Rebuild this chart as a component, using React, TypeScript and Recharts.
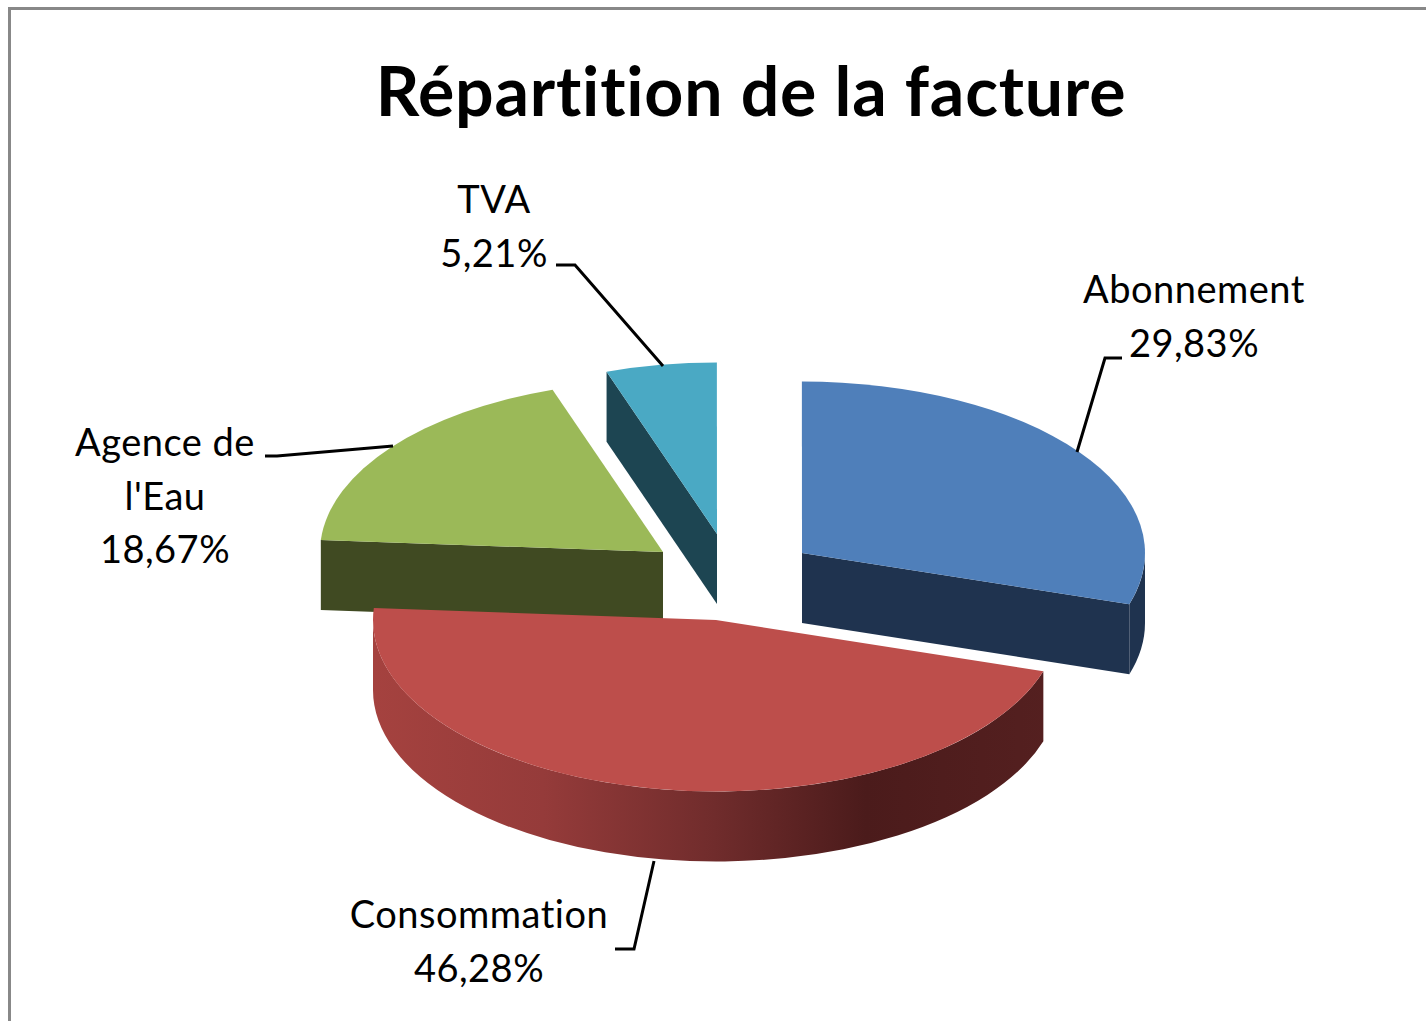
import { Pie, PieChart } from 'recharts';

// drawn back to front: Consommation has to sit on top of Agence de l'Eau
const categories = ["Agence de l'Eau", 'TVA', 'Abonnement', 'Consommation'];
const shares = [18.67, 5.21, 29.83, 46.28];

const data = categories.map((name, i) => ({ name, value: shares[i] }));

const WIDTH = 1426;
const HEIGHT = 1021;
const TILT = 0.5;
const DEPTH = 70;
const FONT = 'Lato, Carlito, sans-serif';

const STYLES: Record<string, { top: string; side: string; dx: number; dy: number }> = {
  Abonnement: { top: '#4f7fba', side: '#1f334f', dx: 87, dy: -67 },
  Consommation: { top: '#bd4e4b', side: 'url(#wall-red)', dx: 1, dy: 0 },
  "Agence de l'Eau": { top: '#9bb958', side: '#404a22', dx: -52, dy: -68 },
  TVA: { top: '#4aa9c4', side: '#1d4552', dx: 2, dy: -86 },
};

const LABELS: Record<string, { lines: string[]; x: number; y: number; leader: string }> = {
  Abonnement: { lines: ['Abonnement'], x: 1194, y: 303, leader: '1122,358 1105,358 1077,452' },
  Consommation: { lines: ['Consommation'], x: 479, y: 928, leader: '615,949 634,949 654,861' },
  "Agence de l'Eau": { lines: ['Agence de', "l'Eau"], x: 165, y: 456, leader: '265,456 277,456 393,446' },
  TVA: { lines: ['TVA'], x: 494, y: 213, leader: '556,265 575,265 663,366' },
};

const rad = (deg: number) => (deg * Math.PI) / 180;

function Slice3D(props: any) {
  const { cx, cy, outerRadius, startAngle, endAngle, name } = props;
  const style = STYLES[name];
  const ox = cx + style.dx;
  const oy = cy + style.dy;
  const rx = outerRadius;
  const ry = outerRadius * TILT;

  // clockwise angle from 12 o'clock
  const t1 = ((90 - startAngle) % 360 + 360) % 360;
  const t2 = t1 + Math.abs(endAngle - startAngle);
  const pt = (t: number, drop = 0) =>
    [ox + rx * Math.sin(rad(t)), oy - ry * Math.cos(rad(t)) + drop] as const;

  const arc = (a: number, b: number, sweep: 0 | 1, drop = 0) => {
    const [x, y] = pt(b, drop);
    return `A${rx} ${ry} 0 ${Math.abs(b - a) > 180 ? 1 : 0} ${sweep} ${x} ${y}`;
  };

  const walls: string[] = [];
  for (const [lo, hi] of [[90, 270], [450, 630]]) {
    const a = Math.max(t1, lo);
    const b = Math.min(t2, hi);
    if (b > a) {
      const [x0, y0] = pt(a);
      const [x1, y1] = pt(b, DEPTH);
      walls.push(`M${x0} ${y0}${arc(a, b, 1)}L${x1} ${y1}${arc(b, a, 0, DEPTH)}Z`);
    }
  }

  const face = (t: number) => {
    const [x, y] = pt(t);
    return `M${ox} ${oy}L${x} ${y}L${x} ${y + DEPTH}L${ox} ${oy + DEPTH}Z`;
  };
  const faces: string[] = [];
  if (Math.sin(rad(t1)) < -0.001) faces.push(face(t1));
  if (Math.sin(rad(t2)) > 0.001) faces.push(face(t2));

  const [sx, sy] = pt(t1);
  return (
    <g>
      <defs>
        <linearGradient id="wall-red" gradientUnits="userSpaceOnUse" x1={cx - rx} x2={cx + rx} y1={0} y2={0}>
          <stop offset="0" stopColor="#a5423f" />
          <stop offset="0.25" stopColor="#953b3a" />
          <stop offset="0.5" stopColor="#702c2c" />
          <stop offset="0.72" stopColor="#4b1b1b" />
          <stop offset="1" stopColor="#552020" />
        </linearGradient>
      </defs>
      {faces.map((d) => (
        <path key={d} d={d} fill={style.side} />
      ))}
      {walls.map((d) => (
        <path key={d} d={d} fill={style.side} />
      ))}
      <path d={`M${ox} ${oy}L${sx} ${sy}${arc(t1, t2, 1)}Z`} fill={style.top} />
    </g>
  );
}

function SliceLabel(props: any) {
  const { name, value } = props;
  const label = LABELS[name];
  const lines = [...label.lines, `${value.toFixed(2).replace('.', ',')}%`];
  return (
    <g>
      <polyline points={label.leader} fill="none" stroke="#000" strokeWidth={3} />
      {lines.map((line, i) => (
        <text
          key={line}
          x={label.x}
          y={label.y + i * 53.5}
          textAnchor="middle"
          fontFamily={FONT}
          fontSize={38}
          fill="#000"
          style={{ fontVariantLigatures: 'none', letterSpacing: 0.5 }}
        >
          {line}
        </text>
      ))}
    </g>
  );
}

export default function App() {
  return (
    <div style={{ position: 'absolute', left: 0, top: 0, width: WIDTH, height: HEIGHT, background: '#fff' }}>
      <PieChart width={WIDTH} height={HEIGHT} margin={{ top: 0, right: 0, bottom: 0, left: 0 }}>
        <path d="M9.5 1021V8.5H1426" fill="none" stroke="#888" strokeWidth={3} />
        <text
          x={751}
          y={116}
          textAnchor="middle"
          fontFamily={FONT}
          fontWeight={700}
          fontSize={68}
          fill="#000"
          style={{ fontVariantLigatures: 'none', letterSpacing: 0.8 }}
        >
          Répartition de la facture
        </text>
        <Pie
          data={data}
          dataKey="value"
          nameKey="name"
          cx={715}
          cy={620}
          outerRadius={343}
          startAngle={-184}
          endAngle={-544}
          stroke="none"
          shape={Slice3D}
          label={SliceLabel}
          labelLine={false}
          isAnimationActive={false}
        />
      </PieChart>
    </div>
  );
}
